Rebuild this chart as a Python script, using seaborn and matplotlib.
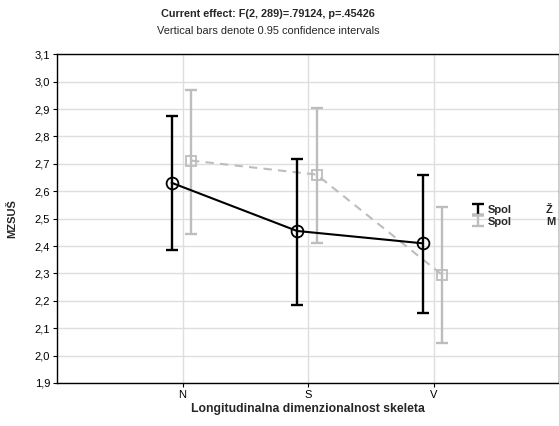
import matplotlib
matplotlib.use("Agg")
import matplotlib.pyplot as plt
import seaborn as sns
import pandas as pd
import numpy as np

categories = ["N", "S", "V"]
groups = ["Ž", "M"]
mean_z = [2.631, 2.455, 2.410]
low_z = [2.387, 2.183, 2.155]
high_z = [2.876, 2.718, 2.661]
mean_m = [2.712, 2.661, 2.295]
low_m = [2.445, 2.412, 2.047]
high_m = [2.970, 2.905, 2.542]
yticks = [1.9, 2.0, 2.1, 2.2, 2.3, 2.4, 2.5, 2.6, 2.7, 2.8, 2.9, 3.0, 3.1]

sns.set_style("white")
plt.rcParams['font.family'] = ['Liberation Sans', 'DejaVu Sans']

fig = plt.figure(figsize=(5.59, 4.26), dpi=100)
ax = fig.add_axes([57/559, 43/426, 502/559, (383-54.3)/426])

pos = np.arange(1, len(categories) + 1)
df = pd.DataFrame({
    "x": np.concatenate([pos - 0.087, pos + 0.068]),
    "mean": mean_z + mean_m,
    "low": low_z + low_m,
    "high": high_z + high_m,
    "Spol": [groups[0]] * 3 + [groups[1]] * 3,
})

styles = {
    "Ž": dict(color="black", ls="-", marker="o", ms=8.5),
    "M": dict(color="#bdbdbd", ls=(0, (4, 3)), marker="s", ms=7),
}

handles = []
for g in groups:
    d = df[df["Spol"] == g]
    st = styles[g]
    sns.lineplot(x=d["x"], y=d["mean"], ax=ax, color=st["color"], linestyle=st["ls"],
                 linewidth=1.5, marker=st["marker"], markersize=st["ms"],
                 markerfacecolor="none", markeredgecolor=st["color"], markeredgewidth=1.3,
                 legend=False, zorder=4 if g == "Ž" else 3)
    eb = ax.errorbar(d["x"], d["mean"], yerr=[d["mean"] - d["low"], d["high"] - d["mean"]],
                     fmt="none", ecolor=st["color"], elinewidth=1.7, capsize=4.3, capthick=1.7,
                     zorder=4 if g == "Ž" else 3)
    handles.append(eb)

ax.set_xlim(0, 4)
ax.set_ylim(1.9, 3.1)
ax.set_xticks(pos)
ax.set_xticklabels(categories)
ax.set_yticks(yticks)
ax.set_yticklabels([f"{v:.1f}".replace(".", ",") for v in yticks])
ax.tick_params(axis="both", labelsize=8, length=3, width=0.8, direction="out", color="black",
               labelcolor="black", left=True, bottom=True, pad=2)
ax.grid(True, color="#dedede", linewidth=1)
ax.set_axisbelow(True)
for s in ["left", "bottom", "top", "right"]:
    ax.spines[s].set_color("black")
    ax.spines[s].set_linewidth(1)

ax.set_xlabel("Longitudinalna dimenzionalnost skeleta", fontsize=8.8, fontweight="bold", labelpad=2)
ax.set_ylabel("MZSUŠ", fontsize=8, fontweight="bold")
ax.yaxis.set_label_coords((17 - 57) / 502, 0.5)

fig.text(268/559, 1 - 14/426, "Current effect: F(2, 289)=.79124, p=.45426", ha="center", va="center",
         fontsize=7.8, fontweight="bold")
fig.text(268/559, 1 - 31/426, "Vertical bars denote 0.95 confidence intervals", ha="center", va="center",
         fontsize=7.9)

leg = ax.legend(handles, ["Spol", "Spol"], loc="center left", bbox_to_anchor=(466/559, 1 - 216/426),
                bbox_transform=fig.transFigure, frameon=False, fontsize=8, handlelength=1.1,
                handletextpad=0.4, labelspacing=0.1, borderpad=0)
for t in leg.get_texts():
    t.set_fontweight("bold")
fig.text(546/559, 1 - 210/426, "Ž", fontsize=8, fontweight="bold", va="center")
fig.text(546/559, 1 - 222/426, "M", fontsize=8, fontweight="bold", va="center")

fig.savefig("out.png", dpi=100)
